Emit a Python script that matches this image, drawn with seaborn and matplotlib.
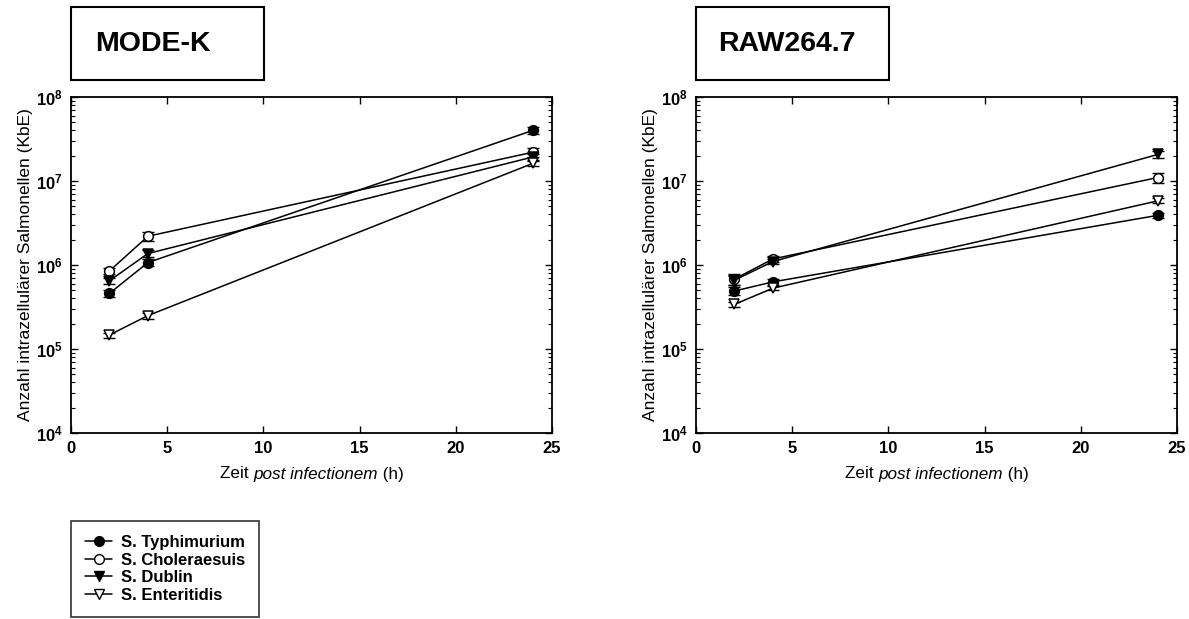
import matplotlib
matplotlib.use("Agg")
import matplotlib.pyplot as plt
import seaborn as sns
import numpy as np
import pandas as pd
from matplotlib.ticker import LogLocator, LogFormatterMathtext, MultipleLocator
from matplotlib.lines import Line2D

sns.set_style("ticks")
plt.rcParams['font.family'] = ['Liberation Sans', 'DejaVu Sans']
plt.rcParams['mathtext.fontset'] = 'custom'
plt.rcParams['mathtext.rm'] = 'Liberation Sans:bold'
plt.rcParams['text.color'] = 'black'
plt.rcParams['axes.labelcolor'] = 'black'
plt.rcParams['xtick.color'] = 'black'
plt.rcParams['ytick.color'] = 'black'

time_h = [2, 4, 24]
strains = ["S. Typhimurium", "S. Choleraesuis", "S. Dublin", "S. Enteritidis"]

# MODE-K
modek_typhimurium = [4.6e5, 1.07e6, 4.0e7]
modek_choleraesuis = [8.5e5, 2.2e6, 2.2e7]
modek_dublin = [6.5e5, 1.37e6, 1.93e7]
modek_enteritidis = [1.47e5, 2.5e5, 1.62e7]
modek_typhimurium_err = [4e4, 1e5, 4e6]
modek_choleraesuis_err = [6e4, 2.5e5, 2.5e6]
modek_dublin_err = [5e4, 1.2e5, 1.5e6]
modek_enteritidis_err = [1e4, 2e4, 1.2e6]

# RAW264.7
raw_typhimurium = [4.9e5, 6.3e5, 3.9e6]
raw_choleraesuis = [6.8e5, 1.18e6, 1.1e7]
raw_dublin = [6.6e5, 1.1e6, 2.07e7]
raw_enteritidis = [3.4e5, 5.3e5, 5.8e6]
raw_typhimurium_err = [5e4, 5e4, 3e5]
raw_choleraesuis_err = [1e5, 1e5, 1.5e6]
raw_dublin_err = [8e4, 8e4, 2e6]
raw_enteritidis_err = [2e4, 3e4, 4e5]

panels = {
    "MODE-K": ([modek_typhimurium, modek_choleraesuis, modek_dublin, modek_enteritidis],
               [modek_typhimurium_err, modek_choleraesuis_err, modek_dublin_err, modek_enteritidis_err]),
    "RAW264.7": ([raw_typhimurium, raw_choleraesuis, raw_dublin, raw_enteritidis],
                 [raw_typhimurium_err, raw_choleraesuis_err, raw_dublin_err, raw_enteritidis_err]),
}

markers = ["o", "o", "v", "v"]
faces = ["black", "white", "black", "white"]

fig = plt.figure(figsize=(11.89, 6.19), dpi=100)
W, H = 1189, 619
axes_px = [(71, 552), (696, 1177)]
title_x = [95, 718]
top_px, bot_px = 97, 433

for (title, (vals, errs)), (xl, xr), tx in zip(panels.items(), axes_px, title_x):
    ax = fig.add_axes([xl / W, (H - bot_px) / H, (xr - xl) / W, (bot_px - top_px) / H])
    for name, v, e, m, fc in zip(strains, vals, errs, markers, faces):
        df = pd.DataFrame({"t": time_h, "n": v})
        ax.errorbar(time_h, v, yerr=e, fmt="none", ecolor="black", elinewidth=1, capsize=4, capthick=1, zorder=2)
        sns.lineplot(data=df, x="t", y="n", ax=ax, color="black", lw=1.1, marker=m,
                     markersize=7 if m == "o" else 7.5, markerfacecolor=fc, markeredgecolor="black",
                     markeredgewidth=1.1, zorder=3)
    ax.set_yscale("log")
    ax.set_ylim(1e4, 1e8)
    ax.set_xlim(0, 25)
    ax.xaxis.set_major_locator(MultipleLocator(5))
    ax.yaxis.set_major_locator(LogLocator(base=10, numticks=10))
    ax.yaxis.set_minor_locator(LogLocator(base=10, subs=np.arange(2, 10), numticks=20))
    ax.yaxis.set_major_formatter(LogFormatterMathtext())
    ax.tick_params(axis="both", which="both", direction="in", top=True, right=True, colors="black")
    ax.tick_params(axis="both", which="major", length=5, width=1, labelsize=12, pad=6)
    ax.tick_params(axis="y", which="minor", length=3, width=0.8)
    ax.tick_params(axis="x", which="minor", length=0)
    for lbl in ax.get_xticklabels() + ax.get_yticklabels():
        lbl.set_fontweight("bold")
    for s in ax.spines.values():
        s.set_linewidth(1.3)
        s.set_color("black")
    ax.set_xlabel("")
    ax.set_ylabel("Anzahl intrazellulärer Salmonellen (KbE)", fontsize=12.5, labelpad=2)
    # x-label with italic part
    xc = (xl + xr) / 2 / W
    yl = (H - 474) / H
    t1 = fig.text(0, yl, "Zeit ", fontsize=12.3, va="center")
    t2 = fig.text(0, yl, "post infectionem", fontsize=12.3, style="italic", va="center")
    t3 = fig.text(0, yl, " (h)", fontsize=12.3, va="center")
    fig.canvas.draw()
    r = fig.canvas.get_renderer()
    w1 = t1.get_window_extent(r).width / W
    w2 = t2.get_window_extent(r).width / W
    w3 = t3.get_window_extent(r).width / W
    x0 = xc - (w1 + w2 + w3) / 2
    t1.set_x(x0); t2.set_x(x0 + w1); t3.set_x(x0 + w1 + w2)
    # title box
    fig.text(tx / W, (H - 44) / H, title, fontsize=20.5, fontweight="bold", ha="left", va="center")
    fig.patches.append(plt.Rectangle((xl / W, (H - 80) / H), 193 / W, 73 / H, transform=fig.transFigure,
                                     fill=False, ec="black", lw=1.5))

handles = [Line2D([0], [0], color="black", lw=1.1, marker=m, markersize=7, markerfacecolor=fc,
                  markeredgecolor="black") for m, fc in zip(markers, faces)]
leg = fig.legend(handles, strains, loc="upper left", bbox_to_anchor=(71 / W, (H - 521) / H),
                 frameon=True, fancybox=False, fontsize=12, handlelength=1.6,
                 labelspacing=0.15, borderpad=0.85, handletextpad=0.55, borderaxespad=0)
leg.get_frame().set_linewidth(1.2)
leg.get_frame().set_edgecolor("black")
for t in leg.get_texts():
    t.set_fontweight("bold")

fig.savefig("out.png", dpi=100, facecolor="white")
